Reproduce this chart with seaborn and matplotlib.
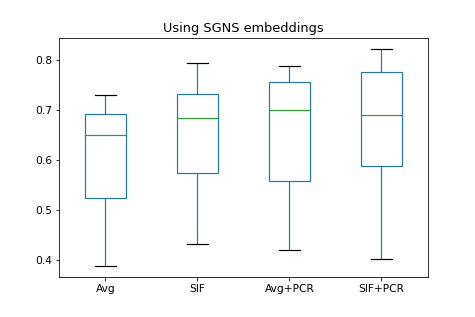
import pandas as pd
import matplotlib
matplotlib.use("Agg")
import matplotlib.pyplot as plt
import seaborn as sns

# Box statistics: whisker low, Q1, median, Q3, whisker high
methods = ["Avg", "SIF", "Avg+PCR", "SIF+PCR"]
avg_vals = [0.388, 0.524, 0.651, 0.693, 0.731]
sif_vals = [0.431, 0.573, 0.684, 0.732, 0.795]
avg_pcr_vals = [0.419, 0.557, 0.701, 0.756, 0.788]
sif_pcr_vals = [0.402, 0.587, 0.691, 0.777, 0.823]

# Long-form table for seaborn
rows = []
for name, vals in zip(methods, [avg_vals, sif_vals, avg_pcr_vals, sif_pcr_vals]):
    for v in vals:
        rows.append({"method": name, "score": v})
df = pd.DataFrame(rows)

fig = plt.figure(figsize=(475 / 72, 317 / 72), dpi=72)
ax = fig.add_axes([0.125, 0.127, 0.775, 0.754])

sns.boxplot(
    data=df, x="method", y="score", order=methods, ax=ax,
    width=0.45, linewidth=1.2, whis=1.5,
    boxprops=dict(facecolor="none", edgecolor="#1f77b4"),
    whiskerprops=dict(color="#1f77b4"),
    capprops=dict(color="black"),
    medianprops=dict(color="#2ca02c"),
)

ax.set_title("Using SGNS embeddings", fontsize=12.9)
ax.set_xlabel("")
ax.set_ylabel("")
ax.set_xlim(-0.5, 3.5)
ax.set_yticks([0.4, 0.5, 0.6, 0.7, 0.8])
ax.tick_params(labelsize=10.6)

fig.savefig("out.png", dpi=72)
